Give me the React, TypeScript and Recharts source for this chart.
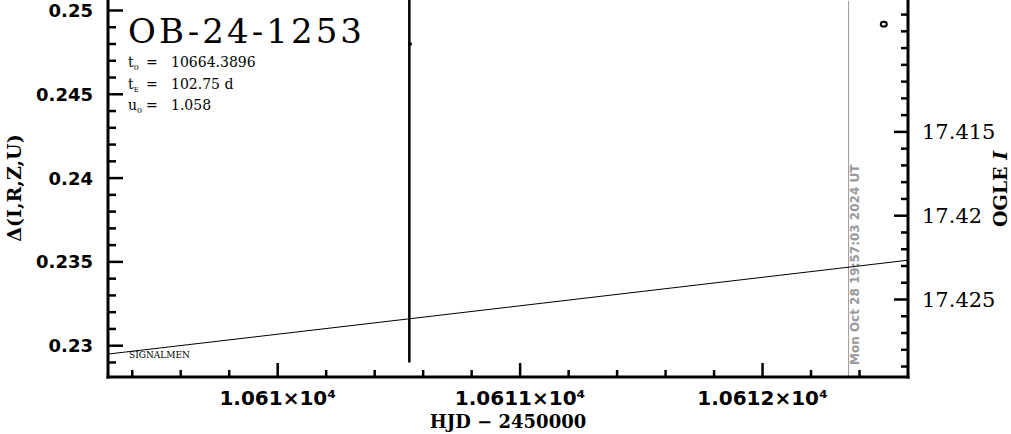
import React from 'react';
import {
  ComposedChart,
  Line,
  Scatter,
  XAxis,
  YAxis,
  ReferenceLine,
  ErrorBar,
  Customized,
} from 'recharts';

// ---- data ----
const modelHjd = [10609.3, 10610.54, 10612.6];
const modelDelta = [0.2295, 0.2316, 0.2351];

const pointHjd = [10610.543];
const pointDelta = [0.248];
const pointErr = [0.019];

const markerHjd = [10612.5];
const markerDelta = [0.24924];

const nowHjd = 10612.355;
const nowLabel = 'Mon Oct 28 19:57:03 2024 UT';

const xDomain = [10609.3, 10612.6];
const yDomain = [0.228132, 0.250566];
const magDomain = [17.40719, 17.429624];

const xTicks = [
  10609.4, 10609.6, 10609.8, 10610.0, 10610.2, 10610.4, 10610.6, 10610.8,
  10611.0, 10611.2, 10611.4, 10611.6, 10611.8, 10612.0, 10612.2, 10612.4,
];
const xMajorTicks = [10610, 10611, 10612];
const xTickLabels = ['1.061×10⁴', '1.0611×10⁴', '1.0612×10⁴'];

const yTicks = [
  0.229, 0.23, 0.231, 0.232, 0.233, 0.234, 0.235, 0.236, 0.237, 0.238, 0.239,
  0.24, 0.241, 0.242, 0.243, 0.244, 0.245, 0.246, 0.247, 0.248, 0.249, 0.25,
];
const yMajorTicks = [0.23, 0.235, 0.24, 0.245, 0.25];
const yTickLabels = ['0.23', '0.235', '0.24', '0.245', '0.25'];

const magTicks = [
  17.408, 17.409, 17.41, 17.411, 17.412, 17.413, 17.414, 17.415, 17.416,
  17.417, 17.418, 17.419, 17.42, 17.421, 17.422, 17.423, 17.424, 17.425,
  17.426, 17.427, 17.428, 17.429,
];
const magMajorTicks = [17.415, 17.42, 17.425];
const magTickLabels = ['17.415', '17.42', '17.425'];

const title = 'OB-24-1253';
const paramT0 = '10664.3896';
const paramTE = '102.75 d';
const paramU0 = '1.058';

const modelData = modelHjd.map((x, i) => ({ x, y: modelDelta[i] }));
const pointData = pointHjd.map((x, i) => ({ x, y: pointDelta[i], err: pointErr[i] }));
const markerData = markerHjd.map((x, i) => ({ x, y: markerDelta[i] }));

const majorIndex = (v: number, majors: number[]) =>
  majors.findIndex((m) => Math.abs(m - v) < 1e-7);

const MAJOR = 14;
const MINOR = 7;
const TICK_W = 2.5;

const SANS = 'DejaVu Sans, sans-serif';
const SERIF = 'DejaVu Serif, serif';

const XTickBottom = (props: any) => {
  const { x, y, payload } = props;
  const idx = majorIndex(payload.value, xMajorTicks);
  const len = idx >= 0 ? MAJOR : MINOR;
  return (
    <g>
      <line x1={x} y1={y} x2={x} y2={y - len} stroke="#000" strokeWidth={TICK_W} />
      {idx >= 0 && (
        <text x={x} y={y + 28} textAnchor="middle" fontFamily={SANS} fontWeight="bold" fontSize={20} fill="#000">
          {xTickLabels[idx]}
        </text>
      )}
    </g>
  );
};

const XTickTop = (props: any) => {
  const { x, y, payload } = props;
  const idx = majorIndex(payload.value, xMajorTicks);
  const len = idx >= 0 ? MAJOR : MINOR;
  return <line x1={x} y1={y} x2={x} y2={y + len} stroke="#000" strokeWidth={TICK_W} />;
};

const YTickLeft = (props: any) => {
  const { x, y, payload } = props;
  const idx = majorIndex(payload.value, yMajorTicks);
  const len = idx >= 0 ? MAJOR + 1 : MINOR + 1;
  return (
    <g>
      <line x1={x} y1={y} x2={x + len} y2={y} stroke="#000" strokeWidth={TICK_W} />
      {idx >= 0 && (
        <text x={x - 15} y={y} dy="0.36em" textAnchor="end" fontFamily={SANS} fontWeight="bold" fontSize={18} fill="#000">
          {yTickLabels[idx]}
        </text>
      )}
    </g>
  );
};

const YTickRight = (props: any) => {
  const { x, y, payload } = props;
  const idx = majorIndex(payload.value, magMajorTicks);
  const len = idx >= 0 ? MAJOR : MINOR;
  return (
    <g>
      <line x1={x} y1={y} x2={x - len} y2={y} stroke="#000" strokeWidth={TICK_W} />
      {idx >= 0 && (
        <text x={x + 14} y={y} dy="0.36em" textAnchor="start" fontFamily={SERIF} fontSize={21} fill="#000">
          {magTickLabels[idx]}
        </text>
      )}
    </g>
  );
};

const PointShape = (props: any) => {
  const { cx, cy } = props;
  return <rect x={cx - 1} y={cy - 1.5} width={3.5} height={3} fill="#000" />;
};

const MarkerShape = (props: any) => {
  const { cx, cy } = props;
  return <ellipse cx={cx} cy={cy + 1} rx={3} ry={2.4} fill="none" stroke="#000" strokeWidth={2} />;
};

const NowLabel = (props: any) => {
  const vb = props.viewBox || {};
  const lx = (vb.x || 0) + 6;
  const ly = (vb.y || 0) + (vb.height || 0) - 12;
  return (
    <text
      x={lx}
      y={ly}
      transform={`rotate(-90, ${lx}, ${ly})`}
      textAnchor="start"
      dy="0.36em"
      fontFamily={SANS}
      fontWeight="bold"
      fontSize={12}
      fill="#999"
    >
      {nowLabel}
    </text>
  );
};

const Annotations = () => (
  <g>
    <text x={128} y={43} fontFamily={SERIF} fontSize={34} fill="#000" textLength={234} lengthAdjust="spacing">
      {title}
    </text>
    <text fontFamily={SERIF} fontSize={14} fill="#000">
      <tspan x={128} y={67}>t</tspan>
      <tspan dy={3} fontSize={8}>0</tspan>
      <tspan x={146} y={67}>=</tspan>
      <tspan x={171} y={67}>{paramT0}</tspan>
    </text>
    <text fontFamily={SERIF} fontSize={14} fill="#000">
      <tspan x={128} y={89}>t</tspan>
      <tspan dy={3} fontSize={7}>E</tspan>
      <tspan x={146} y={89}>=</tspan>
      <tspan x={171} y={89}>{paramTE}</tspan>
    </text>
    <text fontFamily={SERIF} fontSize={14} fill="#000">
      <tspan x={128} y={110}>u</tspan>
      <tspan dy={3} fontSize={8}>0</tspan>
      <tspan x={146} y={110}>=</tspan>
      <tspan x={171} y={110}>{paramU0}</tspan>
    </text>
    <text x={129} y={358} fontFamily={SERIF} fontSize={9} fill="#000">
      SIGNALMEN
    </text>
    <text
      x={14}
      y={188}
      transform="rotate(-90, 14, 188)"
      textAnchor="middle"
      dy="0.36em"
      fontFamily={SERIF}
      fontWeight="bold"
      fontSize={19}
      fill="#000"
    >
      Δ(I,R,Z,U)
    </text>
    <text
      x={1000}
      y={189}
      transform="rotate(-90, 1000, 189)"
      textAnchor="middle"
      dy="0.36em"
      fontFamily={SERIF}
      fontWeight="bold"
      fontSize={19}
      fill="#000"
    >
      OGLE <tspan fontStyle="italic">I</tspan>
    </text>
    <text x={508} y={428} textAnchor="middle" fontFamily={SERIF} fontWeight="bold" fontSize={18} fill="#000">
      HJD − 2450000
    </text>
  </g>
);

const axisLine = { stroke: '#000', strokeWidth: 3, strokeLinecap: 'square' as const };

export default function App() {
  return (
    <div style={{ position: 'absolute', left: 0, top: 0, background: '#fff' }}>
      <ComposedChart width={1011} height={434} margin={{ top: 1, right: 0, bottom: 0, left: 0 }}>
        <XAxis
          xAxisId="b"
          type="number"
          dataKey="x"
          orientation="bottom"
          domain={xDomain}
          allowDataOverflow
          ticks={xTicks}
          interval={0}
          tickSize={0}
          tickMargin={0}
          tickLine={false}
          axisLine={axisLine}
          tick={(p: any) => <XTickBottom {...p} />}
          height={57}
        />
        <XAxis
          xAxisId="t"
          type="number"
          dataKey="x"
          orientation="top"
          domain={xDomain}
          allowDataOverflow
          ticks={xTicks}
          interval={0}
          tickSize={0}
          tickMargin={0}
          tickLine={false}
          axisLine={axisLine}
          tick={(p: any) => <XTickTop {...p} />}
          height={0}
        />
        <YAxis
          yAxisId="l"
          type="number"
          orientation="left"
          domain={yDomain}
          allowDataOverflow
          ticks={yTicks}
          interval={0}
          tickSize={0}
          tickMargin={0}
          tickLine={false}
          axisLine={axisLine}
          tick={(p: any) => <YTickLeft {...p} />}
          width={108}
        />
        <YAxis
          yAxisId="r"
          type="number"
          orientation="right"
          domain={magDomain}
          reversed
          allowDataOverflow
          ticks={magTicks}
          interval={0}
          tickSize={0}
          tickMargin={0}
          tickLine={false}
          axisLine={axisLine}
          tick={(p: any) => <YTickRight {...p} />}
          width={103}
        />
        <ReferenceLine
          xAxisId="b"
          yAxisId="l"
          x={nowHjd}
          stroke="#999"
          strokeWidth={1}
          label={(p: any) => <NowLabel {...p} />}
        />
        <Line
          xAxisId="b"
          yAxisId="l"
          data={modelData}
          dataKey="y"
          type="linear"
          stroke="#000"
          strokeWidth={1}
          dot={false}
          isAnimationActive={false}
        />
        <Scatter
          xAxisId="b"
          yAxisId="l"
          data={pointData}
          dataKey="y"
          shape={(p: any) => <PointShape {...p} />}
          isAnimationActive={false}
        >
          <ErrorBar dataKey="err" direction="y" width={0} stroke="#000" strokeWidth={2.5} isAnimationActive={false} />
        </Scatter>
        <Scatter
          xAxisId="b"
          yAxisId="l"
          data={markerData}
          dataKey="y"
          shape={(p: any) => <MarkerShape {...p} />}
          isAnimationActive={false}
        />
        <Customized component={Annotations} />
      </ComposedChart>
    </div>
  );
}
